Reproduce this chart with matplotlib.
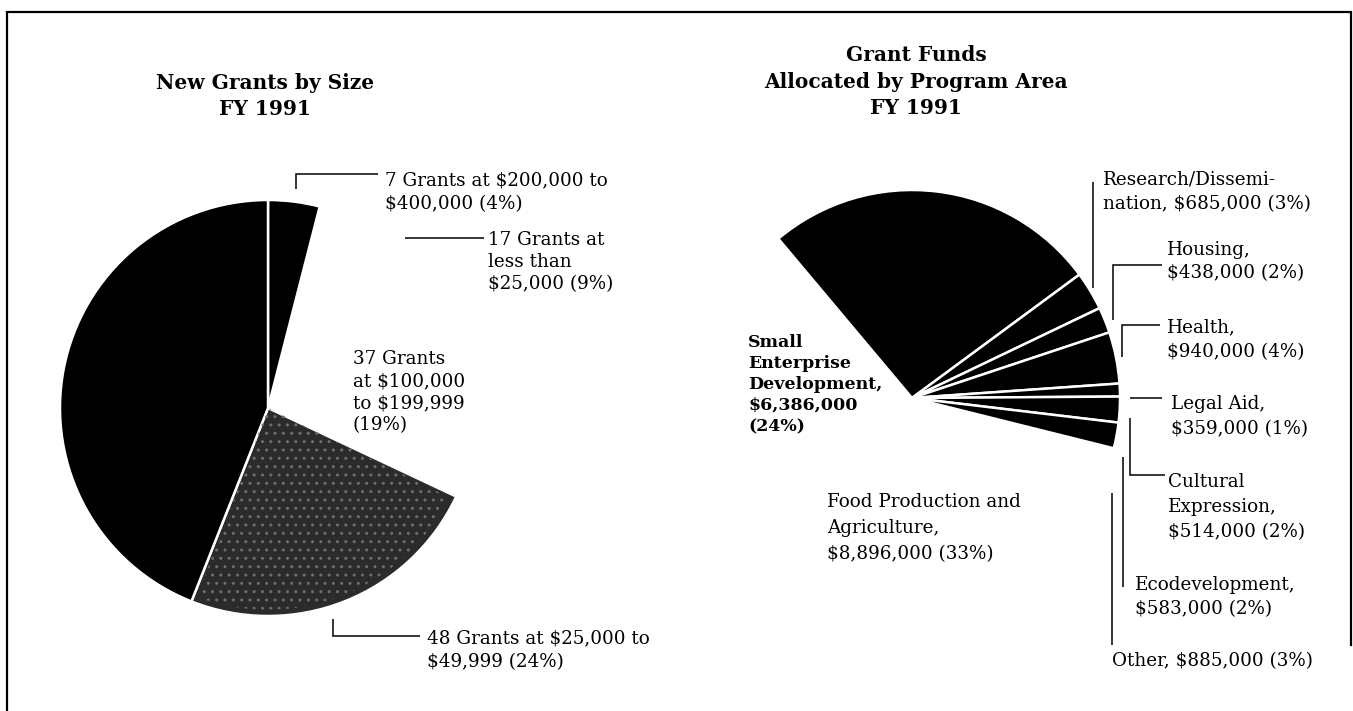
import matplotlib.pyplot as plt
from matplotlib.patches import Wedge

W, H = 1353, 711  # canvas in pixels, y measured from the top

# ---- left chart: New Grants by Size, FY 1991 (clockwise from 12 o'clock)
size_labels = [
    ["7 Grants at $200,000 to", "$400,000 (4%)"],
    ["17 Grants at", "less than", "$25,000 (9%)"],
    ["37 Grants", "at $100,000", "to $199,999", "(19%)"],
    ["48 Grants at $25,000 to", "$49,999 (24%)"],
]
size_pct = [4, 9, 19, 24]
size_rest = 100 - sum(size_pct)          # unlabeled black wedge
size_colors = ["black", "none", "none", "#2b2b2b", "black"]

# ---- right chart: Grant Funds Allocated by Program Area, FY 1991
area_names = ["Research/Dissemination", "Housing", "Health", "Legal Aid",
              "Cultural Expression", "Ecodevelopment", "Other",
              "Food Production and Agriculture", "Small Enterprise Development"]
area_amounts = [685000, 438000, 940000, 359000, 514000, 583000, 885000,
                8896000, 6386000]
area_pct = [3, 2, 4, 1, 2, 2, 3, 33, 24]
area_rest = 100 - sum(area_pct)          # unlabeled black wedge
# unlabeled wedge + the six small areas are black, the rest print as paper
area_colors = ["black"] * 7 + ["none"] * 3

area_labels = [
    ["Research/Dissemi-", "nation, $685,000 (3%)"],
    ["Housing,", "$438,000 (2%)"],
    ["Health,", "$940,000 (4%)"],
    ["Legal Aid,", "$359,000 (1%)"],
    ["Cultural", "Expression,", "$514,000 (2%)"],
    ["Ecodevelopment,", "$583,000 (2%)"],
    ["Other, $885,000 (3%)"],
    ["Food Production and", "Agriculture,", "$8,896,000 (33%)"],
    ["Small", "Enterprise", "Development,", "$6,386,000", "(24%)"],
]

SERIF = "DejaVu Serif"
FS = 13.2


def Y(y):
    return H - y


def lines_at(ax, x, y0, lines, dy, size=FS, weight="normal", ha="left"):
    for i, s in enumerate(lines):
        ax.text(x, Y(y0 + i * dy), s, fontsize=size, family=SERIF,
                weight=weight, ha=ha, va="baseline", color="black")


def leader(ax, xs, ys):
    ax.plot(xs, [Y(v) for v in ys], color="black", lw=1.1,
            solid_capstyle="butt", solid_joinstyle="miter", zorder=5)


fig = plt.figure(figsize=(W / 100, H / 100), dpi=100)
ax = fig.add_axes([0, 0, 1, 1])

wedge_kw = dict(edgecolor="white", linewidth=1.8)

# left pie
w1, _ = ax.pie(size_pct + [size_rest], colors=size_colors, startangle=90,
               counterclock=False, center=(268, Y(408)), radius=208,
               wedgeprops=wedge_kw)
for w, c in zip(w1, size_colors):
    if c == "none":
        w.set_edgecolor("none")

# speckled screen on the 48-grant wedge
g = w1[3]
ax.add_patch(Wedge(g.center, g.r * 0.97, g.theta1 + 1, g.theta2 - 1,
                   facecolor="none", edgecolor="#6e6e6e", hatch="..",
                   linewidth=0, zorder=g.get_zorder() + 0.1))

# right pie: unlabeled wedge first, then the listed areas, clockwise
w2, _ = ax.pie([area_rest] + area_pct, colors=area_colors, startangle=130,
               counterclock=False, center=(912, Y(398)), radius=208,
               wedgeprops=wedge_kw)
for w, c in zip(w2, area_colors):
    if c == "none":
        w.set_edgecolor("none")

ax.set_xlim(0, W)
ax.set_ylim(0, H)
ax.axis("off")

# titles
lines_at(ax, 265, 89, ["New Grants by Size", "FY 1991"], 26, size=14.5,
         weight="bold", ha="center")
lines_at(ax, 916, 61, ["Grant Funds", "Allocated by Program Area", "FY 1991"],
         26.5, size=14.5, weight="bold", ha="center")

# left labels
lines_at(ax, 385, 185, size_labels[0], 24)
leader(ax, [296, 296, 378], [189, 174, 174])
lines_at(ax, 488, 245, size_labels[1], 22)
leader(ax, [405, 484], [238, 238])
lines_at(ax, 353, 364, size_labels[2], 22)
lines_at(ax, 427, 643, size_labels[3], 24)
leader(ax, [333, 333, 420], [619, 636, 636])

# right labels
lines_at(ax, 1103, 184, area_labels[0], 25)
leader(ax, [1093, 1093], [182, 288])
lines_at(ax, 1167, 255, area_labels[1], 23)
leader(ax, [1113, 1113, 1162], [320, 265, 265])
lines_at(ax, 1167, 332, area_labels[2], 25)
leader(ax, [1122, 1122, 1160], [357, 325, 325])
lines_at(ax, 1171, 409, area_labels[3], 25)
leader(ax, [1130, 1162], [398, 398])
lines_at(ax, 1168, 487, area_labels[4], 25)
leader(ax, [1130, 1130, 1165], [418, 475, 475])
lines_at(ax, 1135, 590, area_labels[5], 24)
leader(ax, [1123, 1123], [457, 587])
lines_at(ax, 1112, 666, area_labels[6], 24)
leader(ax, [1112, 1112], [493, 645])
lines_at(ax, 827, 507, area_labels[7], 26)
lines_at(ax, 748, 347, area_labels[8], 21, size=12.5, weight="bold")

# page frame
ax.plot([7, 7, 1351, 1351], [Y(711), Y(12), Y(12), Y(645)], color="black",
        lw=1.6, solid_joinstyle="miter")

fig.savefig("out.png", dpi=100)
